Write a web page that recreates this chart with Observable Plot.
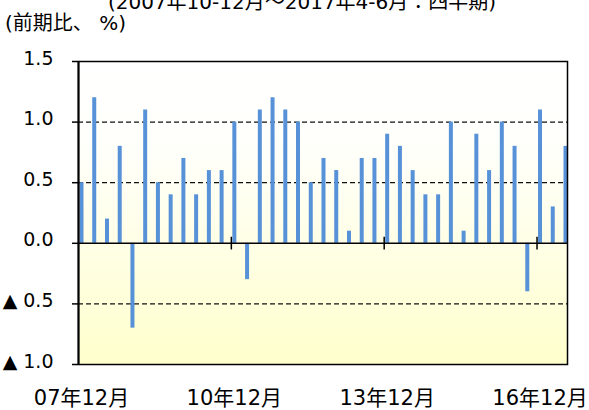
<!DOCTYPE html>
<html>
<head>
<meta charset="utf-8">
<script src="https://cdn.jsdelivr.net/npm/d3@7"></script>
<script src="https://cdn.jsdelivr.net/npm/@observablehq/plot@0.6"></script>
<style>
  html, body { margin: 0; padding: 0; background: #fff; }
  #wrap { position: relative; width: 589px; height: 410px; overflow: hidden; font-family: 'DejaVu Sans', 'Noto Sans CJK JP', sans-serif; }
  #wrap svg { position: absolute; left: 0; top: 0; }
  .title { position: absolute; left: 0; width: 604px; text-align: center; top: -8px; font-size: 20px; line-height: 20px; white-space: nowrap; z-index: 2; }
  .unit { position: absolute; left: 5px; top: 13px; font-size: 20px; line-height: 20px; white-space: nowrap; z-index: 2; }
</style>
</head>
<body>
<div id="wrap">
  <div class="title">(2007年10-12月～2017年4-6月：四半期)</div>
  <div class="unit">(前期比、 %)</div>
</div>
<script>
const quarters = ["07年12月","08年3月","08年6月","08年9月","08年12月","09年3月","09年6月","09年9月","09年12月","10年3月","10年6月","10年9月","10年12月","11年3月","11年6月","11年9月","11年12月","12年3月","12年6月","12年9月","12年12月","13年3月","13年6月","13年9月","13年12月","14年3月","14年6月","14年9月","14年12月","15年3月","15年6月","15年9月","15年12月","16年3月","16年6月","16年9月","16年12月","17年3月","17年6月"];
const values = [0.5,1.2,0.2,0.8,-0.7,1.1,0.5,0.4,0.7,0.4,0.6,0.6,1.0,-0.3,1.1,1.2,1.1,1.0,0.5,0.7,0.6,0.1,0.7,0.7,0.9,0.8,0.6,0.4,0.4,1.0,0.1,0.9,0.6,1.0,0.8,-0.4,1.1,0.3,0.8];
const tickLabels = ["07年12月","10年12月","13年12月","16年12月"];
const yTicks = [-1, -0.5, 0, 0.5, 1, 1.5];
const gridValues = [-0.5, 0.5, 1.0];

const data = quarters.map((q, i) => ({i, q, v: values[i]}));
const tickIdx = tickLabels.map(t => quarters.indexOf(t));
const fmt = d => d < 0 ? "▲ " + Math.abs(d).toFixed(1) : d.toFixed(1);

const svg = Plot.plot({
  width: 589,
  height: 410,
  marginLeft: 78,
  marginRight: 22,
  marginTop: 61,
  marginBottom: 46,
  style: {fontFamily: "'DejaVu Sans','Noto Sans CJK JP',sans-serif", fontSize: "19px", color: "#000", background: "transparent", overflow: "visible"},
  x: {type: "linear", domain: [0, quarters.length - 1], insetLeft: 3, insetRight: 2},
  y: {domain: [-1, 1.5]},
  marks: [
    Plot.frame({fill: "url(#bg)", stroke: "none"}),
    Plot.ruleY(gridValues, {stroke: "#111", strokeWidth: 1.3, strokeDasharray: "5,3"}),
    Plot.ruleX(data, {x: "i", y1: 0, y2: "v", stroke: "#5791D8", strokeWidth: 4}),
    Plot.ruleY([0], {stroke: "#000", strokeWidth: 1.5}),
    Plot.ruleX(tickIdx.slice(1), {x: d => d, y1: -0.055, y2: 0.05, stroke: "#000", strokeWidth: 1.5, dx: -3}),
    Plot.axisY({ticks: yTicks, tickSize: 6, tickFormat: () => "", strokeWidth: 1.5, label: null}),
    Plot.axisY({ticks: yTicks, tickSize: 0, tickPadding: 25, tickFormat: fmt, fontSize: 19, dy: -3, label: null}),
    Plot.axisX({ticks: tickIdx, tickSize: 0, tickPadding: 26, tickFormat: i => quarters[i], fontSize: 21, label: null}),
    Plot.frame({stroke: "#000", strokeWidth: 1.5}),
    Plot.ruleX([0], {x: d => d, y1: -1, y2: 1.5, dx: -3, stroke: "#000", strokeWidth: 2})
  ]
});

const ns = "http://www.w3.org/2000/svg";
const defs = document.createElementNS(ns, "defs");
const grad = document.createElementNS(ns, "linearGradient");
grad.setAttribute("id", "bg");
grad.setAttribute("x1", "0"); grad.setAttribute("y1", "0");
grad.setAttribute("x2", "0"); grad.setAttribute("y2", "1");
[["0", "#ffffff"], ["0.3", "#fffffa"], ["1", "#ffffcc"]].forEach(([o, c]) => {
  const s = document.createElementNS(ns, "stop");
  s.setAttribute("offset", o);
  s.setAttribute("stop-color", c);
  grad.appendChild(s);
});
defs.appendChild(grad);
svg.insertBefore(defs, svg.firstChild);

document.getElementById("wrap").appendChild(svg);
</script>
</body>
</html>
